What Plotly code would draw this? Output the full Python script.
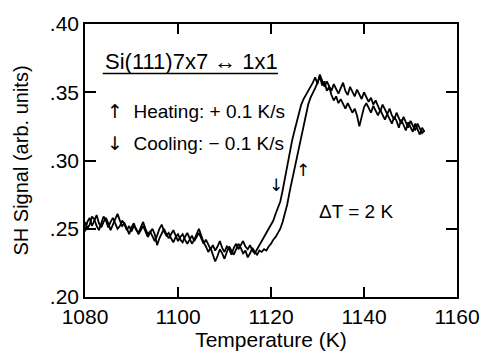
import plotly.graph_objects as go

# Temperature grid (K)
temperature = [
    1080.0, 1080.5, 1081.0, 1081.5, 1082.0, 1082.5, 1083.0, 1083.5, 1084.0, 1084.5,
    1085.0, 1085.5, 1086.0, 1086.5, 1087.0, 1087.5, 1088.0, 1088.5, 1089.0, 1089.5,
    1090.0, 1090.5, 1091.0, 1091.5, 1092.0, 1092.5, 1093.0, 1093.5, 1094.0, 1094.5,
    1095.0, 1095.5, 1096.0, 1096.5, 1097.0, 1097.5, 1098.0, 1098.5, 1099.0, 1099.5,
    1100.0, 1100.5, 1101.0, 1101.5, 1102.0, 1102.5, 1103.0, 1103.5, 1104.0, 1104.5,
    1105.0, 1105.5, 1106.0, 1106.5, 1107.0, 1107.5, 1108.0, 1108.5, 1109.0, 1109.5,
    1110.0, 1110.5, 1111.0, 1111.5, 1112.0, 1112.5, 1113.0, 1113.5, 1114.0, 1114.5,
    1115.0, 1115.5, 1116.0, 1116.5, 1117.0, 1117.5, 1118.0, 1118.5, 1119.0, 1119.5,
    1120.0, 1120.5, 1121.0, 1121.5, 1122.0, 1122.5, 1123.0, 1123.5, 1124.0, 1124.5,
    1125.0, 1125.5, 1126.0, 1126.5, 1127.0, 1127.5, 1128.0, 1128.5, 1129.0, 1129.5,
    1130.0, 1130.5, 1131.0, 1131.5, 1132.0, 1132.5, 1133.0, 1133.5, 1134.0, 1134.5,
    1135.0, 1135.5, 1136.0, 1136.5, 1137.0, 1137.5, 1138.0, 1138.5, 1139.0, 1139.5,
    1140.0, 1140.5, 1141.0, 1141.5, 1142.0, 1142.5, 1143.0, 1143.5, 1144.0, 1144.5,
    1145.0, 1145.5, 1146.0, 1146.5, 1147.0, 1147.5, 1148.0, 1148.5, 1149.0, 1149.5,
    1150.0, 1150.5, 1151.0, 1151.5, 1152.0, 1152.5, 1153.0,
]

# SH signal, heating run (+0.1 K/s)
heating = [
    0.248, 0.255, 0.258, 0.252, 0.256, 0.260, 0.254, 0.251, 0.255, 0.258,
    0.254, 0.249, 0.253, 0.257, 0.261, 0.256, 0.252, 0.254, 0.250, 0.246,
    0.251, 0.254, 0.249, 0.247, 0.251, 0.255, 0.250, 0.246, 0.248, 0.244,
    0.241, 0.245, 0.250, 0.253, 0.248, 0.245, 0.247, 0.243, 0.240, 0.244,
    0.246, 0.242, 0.240, 0.244, 0.247, 0.243, 0.239, 0.242, 0.246, 0.250,
    0.245, 0.240, 0.237, 0.233, 0.236, 0.231, 0.226, 0.230, 0.235, 0.232,
    0.228, 0.233, 0.237, 0.234, 0.231, 0.235, 0.239, 0.236, 0.232, 0.234,
    0.229, 0.232, 0.236, 0.233, 0.231, 0.234, 0.233, 0.235, 0.234, 0.237,
    0.239, 0.242, 0.244, 0.247, 0.250, 0.255, 0.261, 0.268, 0.277, 0.285,
    0.293, 0.301, 0.309, 0.318, 0.327, 0.335, 0.341, 0.346, 0.349, 0.353,
    0.357, 0.362, 0.355, 0.358, 0.351, 0.354, 0.348, 0.344, 0.347, 0.342,
    0.345, 0.341, 0.338, 0.342, 0.339, 0.335, 0.338, 0.333, 0.325, 0.332,
    0.339, 0.342, 0.338, 0.335, 0.340, 0.336, 0.333, 0.337, 0.334, 0.330,
    0.334, 0.331, 0.327, 0.332, 0.329, 0.324, 0.330, 0.326, 0.322, 0.328,
    0.325, 0.321, 0.327, 0.323, 0.319, 0.324, 0.321,
]

# SH signal, cooling run (-0.1 K/s)
cooling = [
    0.255, 0.250, 0.253, 0.259, 0.257, 0.252, 0.249, 0.254, 0.259, 0.256,
    0.251, 0.255, 0.258, 0.254, 0.250, 0.252, 0.256, 0.253, 0.249, 0.252,
    0.248, 0.252, 0.250, 0.246, 0.249, 0.252, 0.248, 0.244, 0.247, 0.250,
    0.246, 0.238, 0.243, 0.247, 0.250, 0.246, 0.243, 0.246, 0.249, 0.245,
    0.241, 0.244, 0.246, 0.242, 0.239, 0.242, 0.245, 0.241, 0.244, 0.247,
    0.243, 0.239, 0.242, 0.238, 0.235, 0.238, 0.234, 0.237, 0.241, 0.236,
    0.233, 0.237, 0.235, 0.231, 0.236, 0.239, 0.235, 0.238, 0.241, 0.237,
    0.235, 0.238, 0.234, 0.232, 0.235, 0.237, 0.240, 0.243, 0.246, 0.250,
    0.252, 0.256, 0.261, 0.266, 0.270, 0.278, 0.287, 0.296, 0.306, 0.314,
    0.321, 0.328, 0.335, 0.341, 0.345, 0.348, 0.350, 0.353, 0.357, 0.361,
    0.356, 0.363, 0.359, 0.354, 0.358, 0.355, 0.351, 0.356, 0.352, 0.349,
    0.353, 0.357, 0.351, 0.348, 0.354, 0.350, 0.347, 0.352, 0.349, 0.345,
    0.350, 0.347, 0.343, 0.346, 0.341, 0.344, 0.340, 0.336, 0.341, 0.338,
    0.334, 0.338, 0.333, 0.330, 0.335, 0.331, 0.327, 0.332, 0.328, 0.324,
    0.329, 0.325, 0.322, 0.327, 0.323, 0.320, 0.322,
]

x_tickvals = [1080, 1100, 1120, 1140, 1160]
x_ticktext = ["1080", "1100", "1120", "1140", "1160"]
y_tickvals = [0.20, 0.25, 0.30, 0.35, 0.40]
y_ticktext = [".20", ".25", ".30", ".35", ".40"]

FONT = "Liberation Sans, Arial, Helvetica, sans-serif"
ARROW_FONT = "DejaVu Sans, Liberation Sans, sans-serif"

fig = go.Figure()
for name, ys in (("Heating", heating), ("Cooling", cooling)):
    fig.add_trace(go.Scatter(x=temperature, y=ys, mode="lines", name=name,
                             line=dict(color="black", width=1.8),
                             showlegend=False, hoverinfo="skip"))

fig.update_layout(
    width=492, height=358,
    margin=dict(l=85, r=27, t=18, b=61),
    paper_bgcolor="white", plot_bgcolor="white",
    font=dict(family=FONT, color="black", size=21),
    xaxis=dict(range=[1080, 1160], tickvals=x_tickvals, ticktext=x_ticktext,
               ticks="inside", ticklen=10, tickwidth=1.5, tickcolor="black",
               showline=True, linecolor="black", linewidth=1.6, mirror="ticks",
               showgrid=False, zeroline=False,
               tickfont=dict(size=21),
               title=dict(text="Temperature (K)", font=dict(size=21), standoff=2)),
    yaxis=dict(range=[0.20, 0.40], tickvals=y_tickvals, ticktext=y_ticktext,
               ticks="inside", ticklen=11, tickwidth=1.5, tickcolor="black",
               showline=True, linecolor="black", linewidth=1.6, mirror="ticks",
               showgrid=False, zeroline=False,
               tickfont=dict(size=21),
               title=dict(text="SH Signal (arb. units)", font=dict(size=20), standoff=16)),
)

ann = dict(xref="x", yref="y", showarrow=False, font=dict(family=FONT, size=19, color="black"))
fig.add_annotation(x=1083.8, y=0.3725, text="Si(111)7x7 \u2194 1x1", xanchor="left",
                   yanchor="middle", **{**ann, "font": dict(family=FONT, size=22, color="black")})
fig.add_shape(type="line", xref="x", yref="y", x0=1083.8, x1=1121.5, y0=0.3638, y1=0.3638,
              line=dict(color="black", width=1.5))
fig.add_annotation(x=1084.2, y=0.3362,
                   text="<span style='font-family:DejaVu Sans'>\u2191</span>  Heating: + 0.1 K/s",
                   xanchor="left", yanchor="middle", **ann)
fig.add_annotation(x=1084.2, y=0.3125,
                   text="<span style='font-family:DejaVu Sans'>\u2193</span>  Cooling: \u2212 0.1 K/s",
                   xanchor="left", yanchor="middle", **ann)
fig.add_annotation(x=1129.9, y=0.2624, text="\u0394T = 2 K", xanchor="left",
                   yanchor="middle", **ann)
fig.add_annotation(x=1121.05, y=0.2824, text="\u2193", xanchor="center",
                   yanchor="middle", **{**ann, "font": dict(family=ARROW_FONT, size=17, color="black")})
fig.add_annotation(x=1126.95, y=0.2932, text="\u2191", xanchor="center",
                   yanchor="middle", **{**ann, "font": dict(family=ARROW_FONT, size=17, color="black")})

fig.write_html("out.html")
